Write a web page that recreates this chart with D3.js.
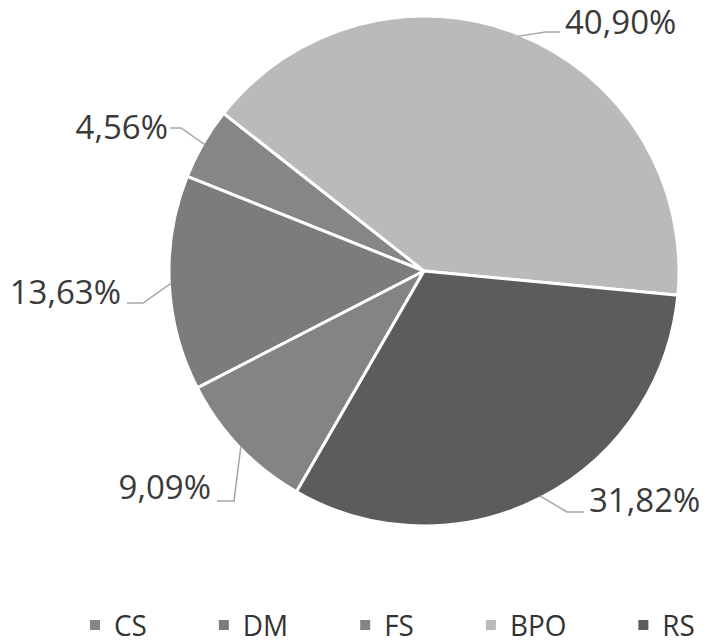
<!DOCTYPE html>
<html>
  <head>
    <style>
      body { margin: 0; background: #fff; }
      .label { font-family: "Open Sans", "DejaVu Sans", sans-serif; font-size: 33px; fill: #3a3a3a; }
      .legend text { font-family: "Open Sans", sans-serif; font-size: 30px; fill: #333; }
      .leader { fill: none; stroke: #a6a6a6; stroke-width: 1.5; }
    </style>
  </head>
  <body>
    <script src="https://d3js.org/d3.v7.min.js"></script>
    <div id="chart"></div>
    <script>
      // Data (legend order)
      var categories = ["CS", "DM", "FS", "BPO", "RS"];
      var values = [4.56, 13.63, 9.09, 40.90, 31.82];
      var labels = ["4,56%", "13,63%", "9,09%", "40,90%", "31,82%"];
      // Order the slices are laid out clockwise
      var drawOrder = ["BPO", "RS", "FS", "DM", "CS"];

      var colors = {CS: "#868686", DM: "#7c7c7c", FS: "#848484", BPO: "#bababa", RS: "#5c5c5c"};

      // label layout: elbow point, line end and text anchor per category
      var labelLayout = {
        BPO: {elbow: [546, 32], end: [560, 32], text: [565, 22], anchor: "start"},
        RS:  {elbow: [567, 512], end: [584, 512], text: [589, 500], anchor: "start"},
        FS:  {elbow: [234, 501], end: [217, 501], text: [211, 487], anchor: "end"},
        DM:  {elbow: [143, 303], end: [127, 303], text: [121, 292], anchor: "end"},
        CS:  {elbow: [181, 128], end: [170, 128], text: [168, 127], anchor: "end"}
      };

      var width = 709, height = 644;
      var cx = 424, cy = 271, radius = 255;

      var svg = d3.select("#chart")
        .append("svg")
          .attr("width", width)
          .attr("height", height);

      var data = categories.map(function(c, i) {
        return {cat: c, value: values[i], label: labels[i]};
      });

      var start = -51.8 * Math.PI / 180;
      var pie = d3.pie()
        .value(function(d) { return d.value; })
        .sort(function(a, b) { return drawOrder.indexOf(a.cat) - drawOrder.indexOf(b.cat); })
        .startAngle(start)
        .endAngle(start + 2 * Math.PI);

      var arc = d3.arc().innerRadius(0).outerRadius(radius);

      var g = svg.append("g")
        .attr("transform", "translate(" + cx + "," + cy + ")");

      var arcs = pie(data);

      g.selectAll("path.slice")
        .data(arcs)
        .enter().append("path")
          .attr("class", "slice")
          .attr("d", arc)
          .attr("fill", function(d) { return colors[d.data.cat]; })
          .attr("stroke", "#fff")
          .attr("stroke-width", 3)
          .attr("stroke-linejoin", "round");

      // Leader lines and labels
      arcs.forEach(function(d) {
        var mid = (d.startAngle + d.endAngle) / 2;
        var px = cx + Math.sin(mid) * (radius - 2);
        var py = cy - Math.cos(mid) * (radius - 2);
        var L = labelLayout[d.data.cat];
        svg.append("polyline")
          .attr("class", "leader")
          .attr("points", [[px, py], L.elbow, L.end].map(function(p) { return p.join(","); }).join(" "));
        svg.append("text")
          .attr("class", "label")
          .attr("x", L.text[0])
          .attr("y", L.text[1])
          .attr("dy", "0.36em")
          .attr("text-anchor", L.anchor)
          .text(d.data.label);
      });

      // Legend: items placed one after another, text squeezed to a narrow face
      var squeeze = 0.93;
      var legend = svg.append("g").attr("class", "legend");
      var lx = 90;
      categories.forEach(function(c) {
        var item = legend.append("g")
          .attr("transform", "translate(" + lx + ",625)");
        item.append("rect")
          .attr("x", 0).attr("y", -5)
          .attr("width", 10).attr("height", 10)
          .attr("fill", colors[c]);
        var t = item.append("text")
          .attr("transform", "translate(24,0) scale(" + squeeze + ",1)")
          .attr("dy", "0.36em")
          .text(c);
        lx += 24 + t.node().getComputedTextLength() * squeeze + 72;
      });
    </script>
  </body>
</html>
